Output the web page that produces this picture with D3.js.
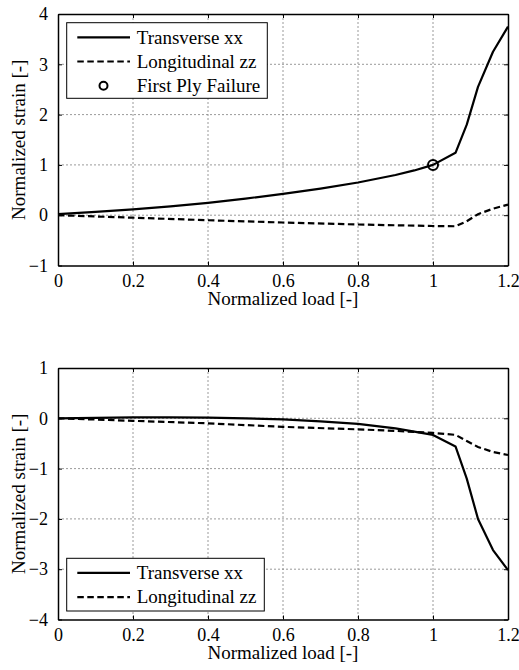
<!DOCTYPE html>
<html>
<head>
<meta charset="utf-8">
<script src="https://cdn.jsdelivr.net/npm/d3@7"></script>
<style>
  html, body { margin: 0; padding: 0; background: #fff; }
  svg { display: block; }
  text { font-family: "Liberation Serif", Tinos, "Times New Roman", serif; fill: #000; }
</style>
</head>
<body>
<svg id="chart" width="519" height="670"></svg>
<script>
// ---------- data ----------
const xTickValues = [0, 0.2, 0.4, 0.6, 0.8, 1.0, 1.2];
const xTickLabels = ["0", "0.2", "0.4", "0.6", "0.8", "1", "1.2"];
const yTicksTop = [-1, 0, 1, 2, 3, 4];
const yTicksBottom = [-4, -3, -2, -1, 0, 1];

const topTransverseLoad   = [0, 0.1, 0.2, 0.3, 0.4, 0.5, 0.6, 0.7, 0.8, 0.9, 0.95, 1.0, 1.06, 1.09, 1.12, 1.16, 1.2];
const topTransverseStrain = [0.02, 0.065, 0.115, 0.175, 0.245, 0.33, 0.425, 0.53, 0.65, 0.8, 0.89, 1.0, 1.24, 1.8, 2.55, 3.25, 3.75];

const topLongitudinalLoad   = [0, 0.2, 0.4, 0.6, 0.8, 1.0, 1.06, 1.09, 1.12, 1.16, 1.2];
const topLongitudinalStrain = [0, -0.05, -0.1, -0.145, -0.185, -0.215, -0.22, -0.12, 0.02, 0.13, 0.21];

const failureLoad = [1.0];
const failureStrain = [1.0];

const botTransverseLoad   = [0, 0.1, 0.2, 0.3, 0.4, 0.5, 0.6, 0.7, 0.8, 0.9, 1.0, 1.06, 1.09, 1.12, 1.16, 1.2];
const botTransverseStrain = [0, 0.01, 0.02, 0.02, 0.015, 0, -0.02, -0.06, -0.11, -0.2, -0.33, -0.56, -1.2, -2.0, -2.62, -3.02];

const botLongitudinalLoad   = [0, 0.2, 0.4, 0.6, 0.8, 0.9, 1.0, 1.06, 1.09, 1.12, 1.16, 1.2];
const botLongitudinalStrain = [0, -0.05, -0.1, -0.17, -0.22, -0.25, -0.29, -0.33, -0.45, -0.57, -0.67, -0.73];

const seriesNames = ["Transverse xx", "Longitudinal zz", "First Ply Failure"];
const xLabel = "Normalized load [-]";
const yLabel = "Normalized strain [-]";

// ---------- drawing ----------
const FONT = '"Liberation Serif", Tinos, "Times New Roman", serif';
const svg = d3.select("#chart");
const left = 58, right = 508;
const tickFont = 18, labelFont = 19;
const dashPattern = "6.5,3.5";
const lineW = 2.2;

function zip(xs, ys) { return xs.map((x, i) => [x, ys[i]]); }

function panel(cfg) {
  const x = d3.scaleLinear().domain([0, 1.2]).range([left, right]);
  const y = d3.scaleLinear().domain(cfg.yDomain).range([cfg.bottom, cfg.top]);
  const g = svg.append("g");

  // grid
  g.append("g").selectAll("line").data(xTickValues.slice(1, -1)).join("line")
    .attr("x1", d => x(d)).attr("x2", d => x(d))
    .attr("y1", cfg.top).attr("y2", cfg.bottom)
    .attr("stroke", "#808080").attr("stroke-width", 0.8).attr("stroke-dasharray", "2,2");
  g.append("g").selectAll("line").data(cfg.yTicks.slice(1, -1)).join("line")
    .attr("y1", d => y(d)).attr("y2", d => y(d))
    .attr("x1", left).attr("x2", right)
    .attr("stroke", "#808080").attr("stroke-width", 0.8).attr("stroke-dasharray", "2,2");

  // axes (box with inward ticks)
  const xb = d3.axisBottom(x).tickValues(xTickValues).tickSizeInner(-4).tickSizeOuter(0)
    .tickFormat((d, i) => xTickLabels[i]).tickPadding(9);
  const xt = d3.axisTop(x).tickValues(xTickValues).tickSizeInner(-4).tickSizeOuter(0).tickFormat("");
  const yl = d3.axisLeft(y).tickValues(cfg.yTicks).tickSizeInner(-4).tickSizeOuter(0).tickPadding(10)
    .tickFormat(d3.format("d"));
  const yr = d3.axisRight(y).tickValues(cfg.yTicks).tickSizeInner(-4).tickSizeOuter(0).tickFormat("");

  const axes = [
    g.append("g").attr("transform", `translate(0,${cfg.bottom})`).call(xb),
    g.append("g").attr("transform", `translate(0,${cfg.top})`).call(xt),
    g.append("g").attr("transform", `translate(${left},0)`).call(yl),
    g.append("g").attr("transform", `translate(${right},0)`).call(yr)
  ];
  axes.forEach(a => {
    a.attr("font-family", FONT).attr("font-size", tickFont);
    a.selectAll("path.domain").attr("stroke", "#000").attr("stroke-width", 1.5);
    a.selectAll(".tick line").attr("stroke", "#000").attr("stroke-width", 1);
    a.selectAll("text").style("font-family", FONT).style("font-size", tickFont + "px").attr("fill", "#000");
  });

  // lines
  const line = d3.line().x(d => x(d[0])).y(d => y(d[1]));
  g.append("path").datum(zip(cfg.longLoad, cfg.longStrain))
    .attr("d", line).attr("fill", "none").attr("stroke", "#000").attr("stroke-width", lineW)
    .attr("stroke-dasharray", dashPattern);
  g.append("path").datum(zip(cfg.transLoad, cfg.transStrain))
    .attr("d", line).attr("fill", "none").attr("stroke", "#000").attr("stroke-width", lineW)
    .attr("stroke-linejoin", "round");

  if (cfg.marker) {
    g.selectAll("circle.fpf").data(zip(failureLoad, failureStrain)).join("circle")
      .attr("class", "fpf")
      .attr("cx", d => x(d[0])).attr("cy", d => y(d[1])).attr("r", 5)
      .attr("fill", "none").attr("stroke", "#000").attr("stroke-width", 2);
  }

  // axis labels
  g.append("text").attr("x", (left + right) / 2).attr("y", cfg.bottom + 39)
    .attr("text-anchor", "middle").style("font-family", FONT).style("font-size", labelFont + "px").text(xLabel);
  g.append("text").attr("transform", `translate(25,${(cfg.top + cfg.bottom) / 2}) rotate(-90)`)
    .attr("text-anchor", "middle").style("font-family", FONT).style("font-size", labelFont + "px").text(yLabel);

  // legend
  const L = cfg.legend;
  const lg = g.append("g");
  lg.append("rect").attr("x", L.x).attr("y", L.y).attr("width", L.w).attr("height", L.h)
    .attr("fill", "#fff").attr("stroke", "#000").attr("stroke-width", 1);
  L.rows.forEach((r, i) => {
    const cy = L.y + 14.6 + i * 24.2;
    if (r === 0) {
      lg.append("line").attr("x1", L.x + 10.6).attr("x2", L.x + 63.3).attr("y1", cy).attr("y2", cy)
        .attr("stroke", "#000").attr("stroke-width", lineW);
    } else if (r === 1) {
      lg.append("line").attr("x1", L.x + 10.6).attr("x2", L.x + 63.3).attr("y1", cy).attr("y2", cy)
        .attr("stroke", "#000").attr("stroke-width", lineW).attr("stroke-dasharray", dashPattern);
    } else {
      lg.append("circle").attr("cx", L.x + 36.8).attr("cy", cy).attr("r", 4)
        .attr("fill", "none").attr("stroke", "#000").attr("stroke-width", 2);
    }
    lg.append("text").attr("x", L.x + 70).attr("y", cy + 6.3)
      .style("font-family", FONT).style("font-size", labelFont + "px").text(seriesNames[r]);
  });
}

panel({
  top: 14, bottom: 265.5, yDomain: [-1, 4], yTicks: yTicksTop,
  transLoad: topTransverseLoad, transStrain: topTransverseStrain,
  longLoad: topLongitudinalLoad, longStrain: topLongitudinalStrain,
  marker: true,
  legend: { x: 66.7, y: 22.7, w: 200.6, h: 75.6, rows: [0, 1, 2] }
});

panel({
  top: 368, bottom: 619.5, yDomain: [-4, 1], yTicks: yTicksBottom,
  transLoad: botTransverseLoad, transStrain: botTransverseStrain,
  longLoad: botLongitudinalLoad, longStrain: botLongitudinalStrain,
  marker: false,
  legend: { x: 66.7, y: 558.3, w: 197.6, h: 52.7, rows: [0, 1] }
});
</script>
</body>
</html>
